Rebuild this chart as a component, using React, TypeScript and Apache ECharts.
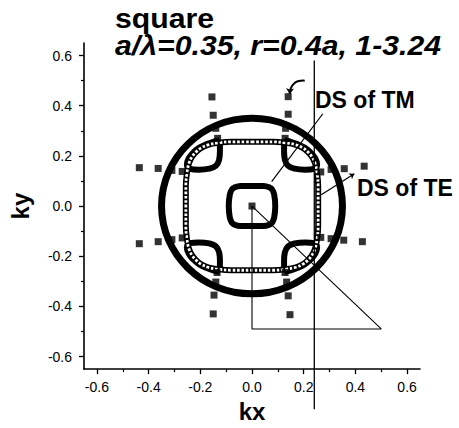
import React, { useEffect, useRef } from "react";
import * as echarts from "echarts";

const majorTicks = [-0.6, -0.4, -0.2, 0, 0.2, 0.4, 0.6];
const minorTicks = [-0.5, -0.3, -0.1, 0.1, 0.3, 0.5];

// DS of TM: circle centre (kx, ky) and radius
const tmCircle = [[0, 0, 0.35]];

// DS of TE contour (drawn with hollow square markers)
const teContour = [
  [0, 0.256], [0.08, 0.256], [0.13, 0.252], [0.17, 0.244], [0.198, 0.231], [0.216, 0.216],
  [0.231, 0.198], [0.244, 0.17], [0.252, 0.13], [0.256, 0.08], [0.256, 0], [0.256, -0.08],
  [0.252, -0.13], [0.244, -0.17], [0.231, -0.198], [0.216, -0.216], [0.198, -0.231],
  [0.17, -0.244], [0.13, -0.252], [0.08, -0.256], [0, -0.256], [-0.08, -0.256], [-0.13, -0.252],
  [-0.17, -0.244], [-0.198, -0.231], [-0.216, -0.216], [-0.231, -0.198], [-0.244, -0.17],
  [-0.252, -0.13], [-0.256, -0.08], [-0.256, 0], [-0.256, 0.08], [-0.252, 0.13], [-0.244, 0.17],
  [-0.231, 0.198], [-0.216, 0.216], [-0.198, 0.231], [-0.17, 0.244], [-0.13, 0.252],
  [-0.08, 0.256], [0, 0.256],
];

// inner thick rounded square around the origin
const innerSquare = [
  [0, 0.08], [0.045, 0.08], [0.068, 0.074], [0.078, 0.066], [0.086, 0.045], [0.09, 0],
  [0.086, -0.045], [0.078, -0.066], [0.068, -0.074], [0.045, -0.08], [0, -0.08],
  [-0.045, -0.08], [-0.068, -0.074], [-0.078, -0.066], [-0.086, -0.045], [-0.09, 0],
  [-0.086, 0.045], [-0.078, 0.066], [-0.068, 0.074], [-0.045, 0.08], [0, 0.08],
];

// four corner pockets (thick black loops)
const lensUR = [
  [0.125, 0.262], [0.124, 0.22], [0.127, 0.185], [0.14, 0.16], [0.165, 0.149], [0.205, 0.145],
  [0.24, 0.148], [0.252, 0.165], [0.245, 0.19], [0.228, 0.212], [0.205, 0.232], [0.175, 0.247],
  [0.15, 0.256], [0.125, 0.262],
];
const lensUL = [
  [-0.125, 0.262], [-0.124, 0.22], [-0.127, 0.185], [-0.14, 0.16], [-0.165, 0.149], [-0.205, 0.145],
  [-0.24, 0.148], [-0.252, 0.165], [-0.245, 0.19], [-0.228, 0.212], [-0.205, 0.232], [-0.175, 0.247],
  [-0.15, 0.256], [-0.125, 0.262],
];
const lensLR = [
  [0.125, -0.262], [0.124, -0.22], [0.127, -0.185], [0.14, -0.16], [0.165, -0.149], [0.205, -0.145],
  [0.24, -0.148], [0.252, -0.165], [0.245, -0.19], [0.228, -0.212], [0.205, -0.232], [0.175, -0.247],
  [0.15, -0.256], [0.125, -0.262],
];
const lensLL = [
  [-0.125, -0.262], [-0.124, -0.22], [-0.127, -0.185], [-0.14, -0.16], [-0.165, -0.149], [-0.205, -0.145],
  [-0.24, -0.148], [-0.252, -0.165], [-0.245, -0.19], [-0.228, -0.212], [-0.205, -0.232], [-0.175, -0.247],
  [-0.15, -0.256], [-0.125, -0.262],
];

// filled square points
const squarePoints = [
  [0, 0],
  [-0.155, 0.435], [-0.15, 0.362], [-0.14, 0.31], [-0.133, 0.27],
  [0.14, 0.436], [0.14, 0.366], [0.13, 0.31], [0.128, 0.27],
  [-0.436, 0.153], [-0.363, 0.15], [-0.31, 0.142], [-0.27, 0.138],
  [0.434, 0.159], [0.357, 0.149], [0.306, 0.146], [0.266, 0.136],
  [-0.436, -0.15], [-0.363, -0.142], [-0.31, -0.134], [-0.27, -0.127],
  [0.427, -0.142], [0.355, -0.136], [0.306, -0.13], [0.266, -0.125],
  [-0.15, -0.43], [-0.147, -0.355], [-0.14, -0.303], [-0.135, -0.265],
  [0.147, -0.433], [0.14, -0.358], [0.134, -0.303], [0.128, -0.265],
];

const incidentLine = [[0.241, 0.58], [0.241, -0.81]];
const triangle = [[0, 0], [0, -0.49], [0.5, -0.49], [0, 0]];
const tmPointer = [[0.274, 0.368], [0.076, 0.097]];
const tePointer = [[0.268, 0.045], [0.396, 0.129]];
const curvedArrow = [[0.204, 0.5], [0.146, 0.446]];

const FONT = '"Liberation Sans", Arial, Helvetica, sans-serif';

export default function App() {
  const ref = useRef<HTMLDivElement>(null);

  useEffect(() => {
    document.body.style.margin = "0";
    const chart = echarts.init(ref.current!, undefined, { renderer: "svg" });

    const axisCommon = {
      type: "value",
      min: -0.65,
      max: 0.65,
      splitLine: { show: false },
    };

    const option: any = {
      animation: false,
      backgroundColor: "#fff",
      grid: { left: 81, top: 43, width: 339, height: 335 },
      xAxis: [
        {
          ...axisCommon,
          position: "bottom",
          name: "kx",
          nameLocation: "middle",
          nameGap: 28,
          nameTextStyle: { fontFamily: FONT, fontWeight: "bold", fontSize: 24, color: "#000" },
          axisLine: { onZero: false, lineStyle: { color: "#000", width: 1.6 } },
          axisTick: { customValues: majorTicks, length: 5, lineStyle: { color: "#000", width: 1.3 } },
          axisLabel: {
            customValues: majorTicks,
            formatter: (v: number) => v.toFixed(1),
            fontFamily: FONT,
            fontSize: 14,
            color: "#000",
            margin: 11,
          },
        },
        {
          ...axisCommon,
          position: "bottom",
          axisLine: { show: false, onZero: false },
          axisTick: { customValues: minorTicks, length: 3, lineStyle: { color: "#000", width: 1.2 } },
          axisLabel: { show: false },
        },
      ],
      yAxis: [
        {
          ...axisCommon,
          position: "left",
          name: "ky",
          nameLocation: "middle",
          nameGap: 52,
          nameTextStyle: { fontFamily: FONT, fontWeight: "bold", fontSize: 24, color: "#000" },
          axisLine: { onZero: false, lineStyle: { color: "#000", width: 1.6 } },
          axisTick: { customValues: majorTicks, length: 5, lineStyle: { color: "#000", width: 1.3 } },
          axisLabel: {
            customValues: majorTicks,
            formatter: (v: number) => v.toFixed(1),
            fontFamily: FONT,
            fontSize: 14,
            color: "#000",
            margin: 12,
          },
        },
        {
          ...axisCommon,
          position: "left",
          axisLine: { show: false, onZero: false },
          axisTick: { customValues: minorTicks, length: 3, lineStyle: { color: "#000", width: 1.2 } },
          axisLabel: { show: false },
        },
      ],
      graphic: [
        {
          type: "text", x: 115, y: 5, scaleX: 1.12,
          style: { text: "square", fontFamily: FONT, fontWeight: "bold", fontSize: 27, fill: "#000", verticalAlign: "top" },
        },
        {
          type: "text", x: 115, y: 32, scaleX: 1.12,
          style: { text: "a/λ=0.35, r=0.4a, 1-3.24", fontFamily: FONT, fontWeight: "bold", fontStyle: "italic", fontSize: 27, fill: "#000", verticalAlign: "top" },
        },
        {
          type: "text", x: 315, y: 88,
          style: { text: "DS of TM", fontFamily: FONT, fontWeight: "bold", fontSize: 23, fill: "#000", verticalAlign: "top" },
        },
        {
          type: "text", x: 357, y: 176,
          style: { text: "DS of TE", fontFamily: FONT, fontWeight: "bold", fontSize: 23, fill: "#000", verticalAlign: "top" },
        },
      ],
      series: [
        {
          type: "custom",
          coordinateSystem: "cartesian2d",
          data: tmCircle,
          encode: { x: 0, y: 1 },
          z: 2,
          renderItem: (params: any, api: any) => {
            const c = api.coord([api.value(0), api.value(1)]);
            const s = api.size([api.value(2), api.value(2)]);
            return {
              type: "ellipse",
              shape: { cx: c[0], cy: c[1], rx: s[0], ry: s[1] },
              style: { fill: "none", stroke: "#000", lineWidth: 7 },
            };
          },
        },
        ...[lensUR, lensUL, lensLR, lensLL].map((d) => ({
          type: "line",
          data: d,
          smooth: 0.4,
          symbol: "none",
          z: 3,
          lineStyle: { color: "#000", width: 6 },
        })),
        {
          type: "line",
          data: innerSquare,
          smooth: 0.4,
          symbol: "none",
          z: 3,
          lineStyle: { color: "#000", width: 6 },
        },
        {
          type: "line",
          data: teContour,
          smooth: 0.4,
          symbol: "none",
          z: 4,
          lineStyle: { color: "#000", width: 6 },
        },
        {
          type: "line",
          data: teContour,
          smooth: 0.4,
          symbol: "none",
          z: 5,
          lineStyle: { color: "#fff", width: 2.8, type: [2.6, 1.8] },
        },
        {
          type: "line",
          data: incidentLine,
          symbol: "none",
          clip: false,
          z: 6,
          lineStyle: { color: "#000", width: 1.3 },
        },
        {
          type: "line",
          data: triangle,
          symbol: "none",
          clip: false,
          z: 6,
          lineStyle: { color: "#000", width: 1.1 },
        },
        {
          type: "line",
          data: tmPointer,
          symbol: "none",
          z: 6,
          lineStyle: { color: "#000", width: 1.2 },
        },
        {
          type: "lines",
          coordinateSystem: "cartesian2d",
          z: 6,
          symbol: ["none", "arrow"],
          symbolSize: 5,
          lineStyle: { color: "#000", width: 1.2, opacity: 1 },
          data: [{ coords: tePointer }],
        },
        {
          type: "lines",
          coordinateSystem: "cartesian2d",
          z: 6,
          symbol: ["none", "arrow"],
          symbolSize: 6,
          lineStyle: { color: "#000", width: 2, opacity: 1, curveness: -0.5 },
          data: [{ coords: curvedArrow }],
        },
        {
          type: "scatter",
          data: squarePoints,
          symbol: "rect",
          symbolSize: 7,
          z: 7,
          itemStyle: { color: "#000" },
        },
      ],
    };

    chart.setOption(option);
    return () => chart.dispose();
  }, []);

  return <div ref={ref} style={{ width: 459, height: 428 }} />;
}
